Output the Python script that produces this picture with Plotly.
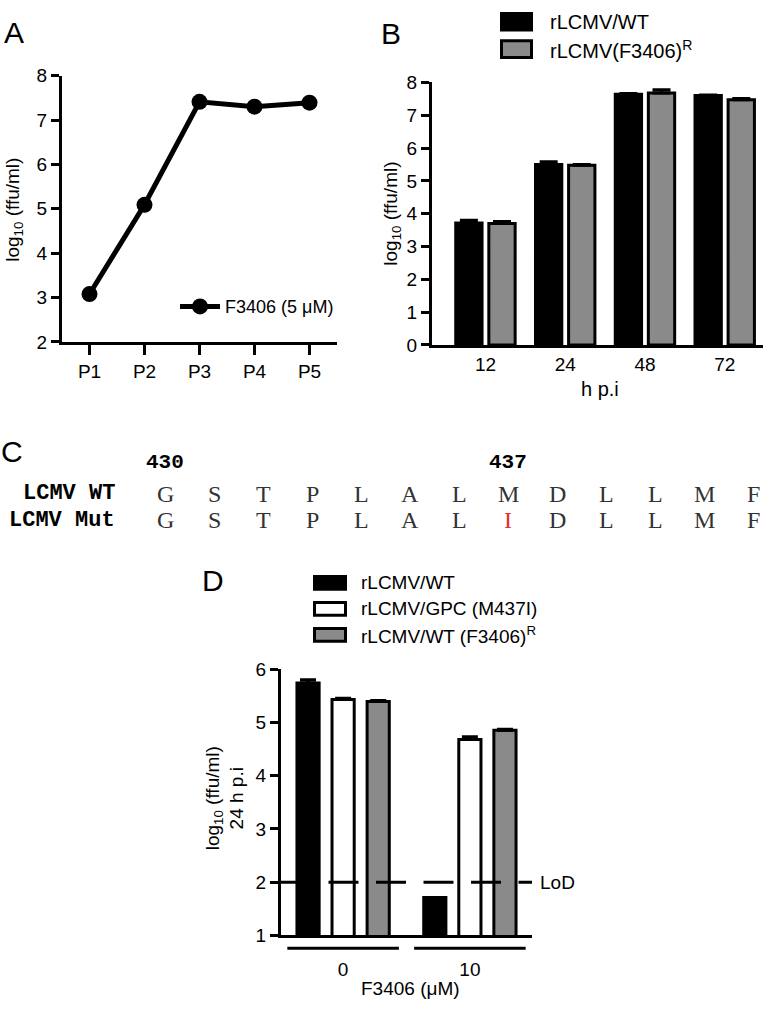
import plotly.graph_objects as go

W, H = 765, 1014
FONT = "Liberation Sans, Arial, Helvetica, sans-serif"
MONO = "Liberation Mono, Courier New, monospace"
SEQFONT = "Liberation Serif, Times New Roman, serif"


def px_x(p):
    return p / W


def px_y(p):
    return 1 - p / H


# ---------------- data ----------------
# Panel A
passages = ["P1", "P2", "P3", "P4", "P5"]
titer_A = [3.08, 5.09, 7.41, 7.30, 7.39]
label_A = "F3406 (5 μM)"

# Panel B
hpi = ["12", "24", "48", "72"]
wt_B = [3.72, 5.50, 7.64, 7.60]
wt_B_err = [0.08, 0.08, 0.02, 0.02]
res_B = [3.70, 5.48, 7.68, 7.47]
res_B_err = [0.06, 0.02, 0.10, 0.04]
names_B = ["rLCMV/WT", "rLCMV(F3406)<sup>R</sup>"]

# Panel C
seq_start = 430
wt_seq = list("GSTPLALMDLLMF")
mut_seq = list("GSTPLALIDLLMF")
numbered = [430, 437]
row_names = ["LCMV WT", "LCMV Mut"]

# Panel D
conc = ["0", "10"]
wt_D = [5.74, 1.71]
wt_D_err = [0.06, 0.0]
gpc_D = [5.43, 4.68]
gpc_D_err = [0.02, 0.05]
res_D = [5.39, 4.85]
res_D_err = [0.02, 0.02]
names_D = ["rLCMV/WT", "rLCMV/GPC (M437I)", "rLCMV/WT (F3406)<sup>R</sup>"]
lod = 2

GRAY = "#8a8a8a"

fig = go.Figure()

# ---------------- Panel A ----------------
fig.add_trace(go.Scatter(
    x=passages, y=titer_A, mode="lines+markers", name=label_A,
    line=dict(color="black", width=5),
    marker=dict(color="black", size=16),
    xaxis="x", yaxis="y", showlegend=True, cliponaxis=False,
))

# ---------------- Panel B ----------------
def err(arr, w=9):
    return dict(type="data", array=arr, arrayminus=[0] * len(arr), symmetric=False,
                color="black", thickness=3, width=w)


fig.add_trace(go.Bar(
    x=hpi, y=wt_B, name=names_B[0], xaxis="x2", yaxis="y2", width=0.33,
    marker=dict(color="black", line=dict(color="black", width=3)),
    error_y=err(wt_B_err), showlegend=False,
))
fig.add_trace(go.Bar(
    x=hpi, y=res_B, name=names_B[1], xaxis="x2", yaxis="y2", width=0.33,
    marker=dict(color=GRAY, line=dict(color="black", width=3)),
    error_y=err(res_B_err), showlegend=False,
))

# ---------------- Panel D ----------------
for vals, errs, col, nm in [(wt_D, wt_D_err, "black", names_D[0]),
                            (gpc_D, gpc_D_err, "white", names_D[1]),
                            (res_D, res_D_err, GRAY, names_D[2])]:
    fig.add_trace(go.Bar(
        x=conc, y=vals, name=nm, xaxis="x3", yaxis="y3", width=0.175,
        marker=dict(color=col, line=dict(color="black", width=3)),
        error_y=err(errs, 8), showlegend=False,
    ))

# ---------------- axes ----------------
base_axis = dict(showline=True, linewidth=3, linecolor="black", showgrid=False,
                 zeroline=False, ticks="outside", tickwidth=3, ticklen=8,
                 tickcolor="black", tickfont=dict(size=19, color="black", family=FONT))

fig.update_layout(
    width=W, height=H,
    margin=dict(l=0, r=0, t=0, b=0),
    paper_bgcolor="white", plot_bgcolor="rgba(0,0,0,0)",
    font=dict(family=FONT, color="black", size=19),
    hovermode=False,
    barmode="group", bargap=0.17, bargroupgap=0,
    xaxis=dict(base_axis, domain=[px_x(62), px_x(337)], type="category",
               range=[-0.5, 4.5], anchor="y", ticklen=10),
    yaxis=dict(base_axis, domain=[px_y(339), px_y(67)], range=[2, 8], dtick=1,
               anchor="x"),
    xaxis2=dict(base_axis, domain=[px_x(432), px_x(763)], type="category",
                range=[-0.67, 3.48], anchor="y2", ticks=""),
    yaxis2=dict(base_axis, domain=[px_y(342), px_y(74)], range=[0, 8], dtick=1,
                anchor="x2"),
    xaxis3=dict(base_axis, domain=[px_x(281), px_x(532)], type="category",
                range=[-0.49, 1.49], anchor="y3", ticks="", ticklabelstandoff=15),
    yaxis3=dict(base_axis, domain=[px_y(945), px_y(673)], range=[1, 6], dtick=1,
                anchor="x3"),
    xaxis4=dict(domain=[0, 1], range=[-165 / 49, (W - 165) / 49], visible=False,
                anchor="y4"),
    yaxis4=dict(domain=[px_y(540), px_y(440)], range=[0, 1], visible=False,
                anchor="x4"),
    legend=dict(x=px_x(175), y=px_y(303), xanchor="left", yanchor="middle",
                font=dict(size=18, color="black", family=FONT),
                bgcolor="rgba(0,0,0,0)", borderwidth=0, itemwidth=40),
)

# ---------------- annotations ----------------
ann = []


def text(x, y, s, size=19, xanchor="center", yanchor="middle", angle=0, xref="paper",
         yref="paper", family=FONT, color="black"):
    ann.append(dict(x=x, y=y, text=s, showarrow=False, xref=xref, yref=yref,
                    xanchor=xanchor, yanchor=yanchor, textangle=angle,
                    font=dict(size=size, family=family, color=color)))


# panel letters
text(px_x(14), px_y(23), "A", size=30)
text(px_x(391), px_y(24), "B", size=30)
text(px_x(12), px_y(451), "C", size=30)
text(px_x(213), px_y(583), "D", size=30)

# axis titles
text(px_x(14), px_y(204), "log<sub>10</sub> (ffu/ml)", angle=-90)
text(px_x(392), px_y(208), "log<sub>10</sub> (ffu/ml)", angle=-90)
text(px_x(600), px_y(387), "h p.i", size=20)
text(px_x(225), px_y(805), "log<sub>10</sub> (ffu/ml)<br>24 h p.i", angle=-90)
text(px_x(410), px_y(999), "F3406 (μM)")

# LoD
text(px_x(538), lod, "LoD", xanchor="left", yref="y3")

# legend B
shapes = []
for i, (nm, col) in enumerate(zip(names_B, ["black", GRAY])):
    yc = 12 + 28 * i
    shapes.append(dict(type="rect", xref="paper", yref="paper",
                       x0=px_x(501.5), x1=px_x(531.5), y0=px_y(yc - 8.5), y1=px_y(yc + 8.5),
                       fillcolor=col, line=dict(color="black", width=3)))
    text(px_x(548), px_y(yc), nm, size=20, xanchor="left")

# legend D
for i, (nm, col) in enumerate(zip(names_D, ["black", "white", GRAY])):
    yc = 585 + 26.5 * i
    shapes.append(dict(type="rect", xref="paper", yref="paper",
                       x0=px_x(314.5), x1=px_x(345.5), y0=px_y(yc - 6.5), y1=px_y(yc + 6.5),
                       fillcolor=col, line=dict(color="black", width=3)))
    text(px_x(359), px_y(yc), nm, size=19, xanchor="left")

# LoD dashed line (D)
shapes.append(dict(type="line", xref="x3 domain", yref="y3", x0=0, x1=1, y0=lod, y1=lod,
                   line=dict(color="black", width=3, dash="30px,17.5px")))

# group brackets under D
for i, _ in enumerate(conc):
    shapes.append(dict(type="line", xref="x3", yref="paper", x0=i - 0.44, x1=i + 0.44,
                       y0=px_y(958), y1=px_y(958), line=dict(color="black", width=3)))

# panel C
for name, yc in zip(row_names, [494, 521]):
    text(px_x(117), px_y(yc), f"<b>{name}</b>", size=22, xanchor="right", family=MONO)
for i, (a, b) in enumerate(zip(wt_seq, mut_seq)):
    text(i, px_y(494), a, size=24, xref="x4", family=SEQFONT, color="#333333")
    text(i, px_y(521), b, size=24, xref="x4", family=SEQFONT,
         color="#e03030" if a != b else "#333333")
for n in numbered:
    text(n - seq_start, px_y(462), f"<b>{n}</b>", size=21, xref="x4", family=MONO)

fig.update_layout(annotations=ann, shapes=shapes)

fig.write_html(
    "out.html",
    config={"displayModeBar": False, "staticPlot": False},
    post_script="document.body.style.margin='0';document.body.style.overflow='hidden';",
)
